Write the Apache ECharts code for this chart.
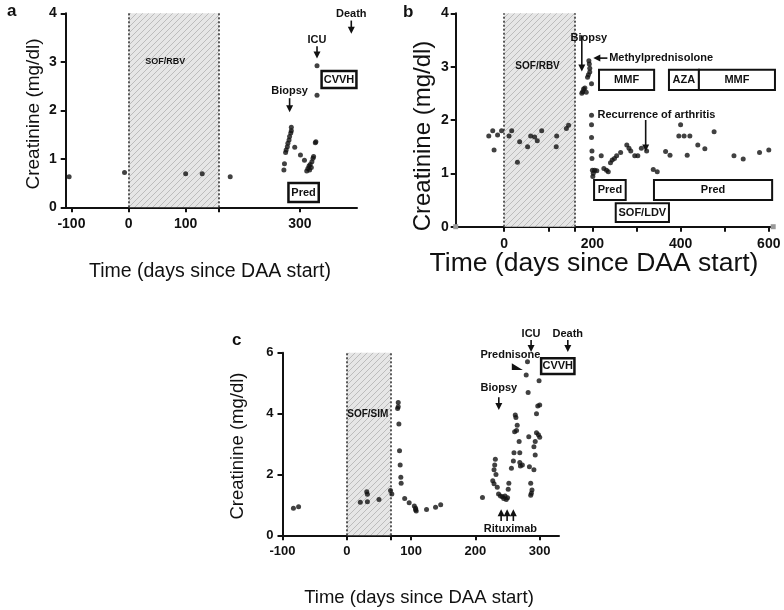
<!DOCTYPE html>
<html><head><meta charset="utf-8">
<script src="https://cdn.jsdelivr.net/npm/echarts@6/dist/echarts.min.js"></script>
<style>html,body{margin:0;padding:0;background:#fff}#c{width:784px;height:610px}</style>
</head><body><div id="c"></div>
<script>
// ---------- Panel a ----------
const aDays = [-104,-7,100,129,178,272,273,275,276,278,279,281,282,284,285,285,291,301,308,312,314,316,317,318,320,321,323,324,327,328,330,330];
const aCreat = [0.63,0.72,0.69,0.69,0.63,0.77,0.90,1.13,1.18,1.25,1.32,1.39,1.46,1.53,1.58,1.65,1.24,1.08,0.97,0.75,0.80,0.85,0.77,0.88,0.82,0.94,1.01,1.05,1.33,1.35,2.31,2.92];
const aTreat = [0,158];
const aTickVals = [-100,0,100,158,300];
const aTickLabels = [-100,0,100,300];
// ---------- Panel b ----------
const bDays = [-35,-26,-23,-15,-6,11,17,30,35,53,60,69,75,85,118,119,141,146,
  176,178,180,183,186,189,191,192,193,194,194,198,
  198,198,198,199,199,200,201,202,205,210,220,226,232,236,241,245,250,255,264,278,283,287,296,303,311,323,338,347,366,376,396,400,408,415,421,439,455,476,521,542,579,600];
const bCreat = [1.70,1.80,1.44,1.72,1.80,1.70,1.80,1.21,1.59,1.50,1.70,1.68,1.61,1.80,1.50,1.70,1.84,1.90,
  2.50,2.53,2.58,2.60,2.52,2.80,2.85,3.11,3.05,2.97,2.90,2.68,
  2.09,1.91,1.67,1.42,1.28,1.06,0.94,1.00,1.06,1.05,1.33,1.09,1.06,1.03,1.20,1.25,1.28,1.33,1.39,1.53,1.47,1.42,1.33,1.33,1.47,1.42,1.07,1.03,1.41,1.34,1.70,1.91,1.70,1.34,1.70,1.53,1.46,1.78,1.33,1.27,1.39,1.44];
const bTreat = [0,161];
const bTickVals = [0,100,161,200,300,400,500,600];
const bTickLabels = [0,200,400,600];
// ---------- Panel c ----------
const cDays = [-83,-75,21,31,32,32,50,68,70,79,80,80,81,82,83,84,84.5,90,97,105,107,108,107,124,138,146,
  211,227,229,229,230,231,232,234,236,239,242,244,246,248,250,251,252,256,259,260,261,262,263,264,265,268,269,269,270,273,
  279,281,282,283,284,286,286,287,288,291,291,293,293,295,295,297,298,300,300,299];
const cCreat = [0.89,0.94,1.09,1.43,1.35,1.10,1.18,1.47,1.36,4.17,4.36,4.22,3.66,2.78,2.31,1.91,1.71,1.21,1.07,0.96,0.89,0.80,0.84,0.85,0.92,1.00,
  1.24,1.79,1.69,2.15,2.31,2.50,2.00,1.58,1.36,1.29,1.27,1.21,1.29,1.18,1.23,1.51,1.71,2.20,2.44,2.71,3.40,3.95,3.87,3.44,3.62,3.08,2.71,2.39,2.28,2.31,
  5.27,5.70,4.69,3.24,2.25,1.71,1.32,1.38,1.49,2.15,2.91,2.64,3.08,3.99,3.37,4.25,3.30,4.28,3.22,5.08];
const cTreat = [0,68];
const cTickVals = [-100,0,68,100,200,300];
const cTickLabels = [-100,0,100,200,300];

const FONT = 'Arial, "Liberation Sans", sans-serif';
const zip = (xs, ys) => xs.map((x, i) => [x, ys[i]]);

function hatch() {
  const c = document.createElement('canvas'); c.width = 6; c.height = 6;
  const g = c.getContext('2d');
  g.fillStyle = '#e6e6e6'; g.fillRect(0, 0, 6, 6);
  g.strokeStyle = '#bcbcbc'; g.lineWidth = 1;
  g.beginPath();
  g.moveTo(0, 6); g.lineTo(6, 0);
  g.moveTo(-3, 3); g.lineTo(3, -3);
  g.moveTo(3, 9); g.lineTo(9, 3);
  g.stroke();
  return c;
}
const pat = { image: hatch(), repeat: 'repeat' };

function xAx(gi, min, max, ticks, labels, fs) {
  return {
    type: 'value', gridIndex: gi, min: min, max: max,
    splitLine: { show: false },
    axisLine: { show: true, onZero: false, lineStyle: { color: '#111', width: 2 } },
    axisTick: { show: true, length: 5, lineStyle: { color: '#111', width: 2 }, customValues: ticks },
    axisLabel: { customValues: labels, color: '#111', fontWeight: 'bold', fontSize: fs, fontFamily: FONT, margin: 10 }
  };
}
function yAx(gi, max, interval, fs, margin) {
  return {
    type: 'value', gridIndex: gi, min: 0, max: max, interval: interval,
    splitLine: { show: false },
    axisLine: { show: true, onZero: false, lineStyle: { color: '#111', width: 2 } },
    axisTick: { show: true, length: 5, lineStyle: { color: '#111', width: 2 } },
    axisLabel: { color: '#111', fontWeight: 'bold', fontSize: fs, fontFamily: FONT, margin: margin }
  };
}
function ser(gi, data, treat) {
  return {
    type: 'scatter', xAxisIndex: gi, yAxisIndex: gi, data: data,
    symbolSize: 5, itemStyle: { color: '#111' }, z: 5,
    markArea: { silent: true, itemStyle: { color: pat }, data: [[{ xAxis: treat[0] }, { xAxis: treat[1] }]] },
    markLine: {
      silent: true, symbol: ['none', 'none'], label: { show: false },
      lineStyle: { color: '#333', width: 1.6, type: [2, 2] },
      data: [{ xAxis: treat[0] }, { xAxis: treat[1] }]
    }
  };
}

const chart = echarts.init(document.getElementById('c'), null, { renderer: 'canvas' });
chart.setOption({
  animation: false,
  backgroundColor: '#fff',
  grid: [
    { left: 65.7, top: 13.3, width: 291.3, height: 194 },
    { left: 455.7, top: 13.3, width: 317.5, height: 213.4 },
    { left: 282.5, top: 352.7, width: 276.5, height: 182.6 }
  ],
  xAxis: [
    xAx(0, -110, 400, aTickVals, aTickLabels, 14),
    xAx(1, -110, 610, bTickVals, bTickLabels, 14),
    xAx(2, -100, 330, cTickVals, cTickLabels, 13)
  ],
  yAxis: [ yAx(0, 4, 1, 14, 9), yAx(1, 4, 1, 14, 7), yAx(2, 6, 2, 13, 9) ],
  series: [ ser(0, zip(aDays, aCreat), aTreat), ser(1, zip(bDays, bCreat), bTreat), ser(2, zip(cDays, cCreat), cTreat) ]
});

// ---------- annotations ----------
const ANN = 'bold 11px ' + FONT;
const els = [];
const P = (g, x, y) => chart.convertToPixel({ gridIndex: g }, [x, y]);
function txtPx(x, y, s, font, align, rot) {
  els.push({ type: 'text', x: x, y: y, rotation: rot || 0, z: 101,
    style: { text: s, font: font, fill: '#111', textAlign: align || 'center', textVerticalAlign: 'middle', align: align || 'center', verticalAlign: 'middle' } });
}
function txt(g, x, y, s, font, align) { const p = P(g, x, y); txtPx(p[0], p[1], s, font || ANN, align); }
function box(g, x1, x2, y1, y2, s, lw) {
  const a = P(g, x1, y2), b = P(g, x2, y1);
  els.push({ type: 'rect', z: 100, shape: { x: a[0], y: a[1], width: b[0] - a[0], height: b[1] - a[1] },
    style: { fill: '#fff', stroke: '#111', lineWidth: lw || 2 } });
  if (s) txt(g, (x1 + x2) / 2, (y1 + y2) / 2, s);
}
function varrow(g, x, y1, y2) {
  const a = P(g, x, y1), b = P(g, x, y2); const d = Math.sign(b[1] - a[1]);
  els.push({ type: 'line', z: 100, shape: { x1: a[0], y1: a[1], x2: b[0], y2: b[1] - d * 5 }, style: { stroke: '#111', lineWidth: 1.6 } });
  els.push({ type: 'polygon', z: 100, shape: { points: [[b[0], b[1]], [b[0] - 3.5, b[1] - d * 7], [b[0] + 3.5, b[1] - d * 7]] }, style: { fill: '#111' } });
}
function harrow(g, x1, x2, y) {
  const a = P(g, x1, y), b = P(g, x2, y); const d = Math.sign(b[0] - a[0]);
  els.push({ type: 'line', z: 100, shape: { x1: a[0], y1: a[1], x2: b[0] - d * 5, y2: b[1] }, style: { stroke: '#111', lineWidth: 1.6 } });
  els.push({ type: 'polygon', z: 100, shape: { points: [[b[0], b[1]], [b[0] - d * 7, b[1] - 3.5], [b[0] - d * 7, b[1] + 3.5]] }, style: { fill: '#111' } });
}

// panel a
txt(0, 64.5, 3.0, 'SOF/RBV', 'bold 9px ' + FONT);
txt(0, 282, 2.40, 'Biopsy'); varrow(0, 282, 2.25, 1.96);
txt(0, 330, 3.45, 'ICU'); varrow(0, 330, 3.32, 3.07);
txt(0, 390, 3.98, 'Death'); varrow(0, 390, 3.85, 3.58);
box(0, 338, 399, 2.46, 2.81, 'CVVH', 2.5);
box(0, 280, 333, 0.11, 0.50, 'Pred', 2.5);
// panel b
txt(1, 75.6, 3.0, 'SOF/RBV', 'bold 10px ' + FONT);
txt(1, 192, 3.53, 'Biopsy'); varrow(1, 176, 3.59, 2.91);
harrow(1, 234, 202, 3.16); txt(1, 238, 3.16, 'Methylprednisolone', ANN, 'left');
box(1, 215, 340, 2.56, 2.94, 'MMF');
box(1, 373.6, 441.5, 2.56, 2.94, 'AZA');
box(1, 441.5, 614, 2.56, 2.94, 'MMF');
txt(1, 211.5, 2.09, 'Recurrence of arthritis', ANN, 'left'); varrow(1, 320.8, 2.0, 1.41);
box(1, 203.8, 275.5, 0.5, 0.875, 'Pred');
box(1, 252.9, 373.6, 0.09, 0.44, 'SOF/LDV');
box(1, 339.6, 607.6, 0.5, 0.875, 'Pred');
(function () {
  [[-110, 0], [610, 0]].forEach(v => {
    const p = P(1, v[0], v[1]);
    els.push({ type: 'rect', z: 99, shape: { x: p[0] - 2.5, y: p[1] - 2.5, width: 5, height: 5 }, style: { fill: '#9a9a9a' } });
  });
})();
// panel c
txt(2, 32.7, 3.99, 'SOF/SIM', 'bold 10px ' + FONT);
txt(2, 236.4, 4.83, 'Biopsy'); varrow(2, 236.4, 4.54, 4.12);
txt(2, 254.4, 5.93, 'Prednisone');
(function () {
  const p1 = P(2, 256.6, 5.65), p2 = P(2, 256.6, 5.43), p3 = P(2, 273.7, 5.43);
  els.push({ type: 'polygon', z: 100, shape: { points: [p1, p2, p3] }, style: { fill: '#111' } });
})();
txt(2, 286.6, 6.6, 'ICU'); varrow(2, 286.6, 6.42, 6.02);
txt(2, 343.7, 6.6, 'Death'); varrow(2, 343.7, 6.42, 6.02);
box(2, 302.2, 354, 5.30, 5.82, 'CVVH', 2.5);
[240, 249.3, 259].forEach(d => varrow(2, d, 0.47, 0.86));
txt(2, 254.4, 0.2, 'Rituximab');

// axis titles and panel letters
txtPx(33.5, 114, 'Creatinine (mg/dl)', '19px ' + FONT, 'center', Math.PI / 2);
txtPx(210, 271.5, 'Time (days since DAA start)', '19.5px ' + FONT);
txtPx(423.5, 136, 'Creatinine (mg/dl)', '24px ' + FONT, 'center', Math.PI / 2);
txtPx(594, 264, 'Time (days since DAA start)', '26.5px ' + FONT);
txtPx(238, 446, 'Creatinine (mg/dl)', '18.5px ' + FONT, 'center', Math.PI / 2);
txtPx(419, 598, 'Time (days since DAA start)', '18.5px ' + FONT);
txtPx(7, 11, 'a', 'bold 17px ' + FONT, 'left');
txtPx(403, 12, 'b', 'bold 17px ' + FONT, 'left');
txtPx(232, 340, 'c', 'bold 17px ' + FONT, 'left');

chart.setOption({ graphic: { elements: els } });
</script>
</body></html>
